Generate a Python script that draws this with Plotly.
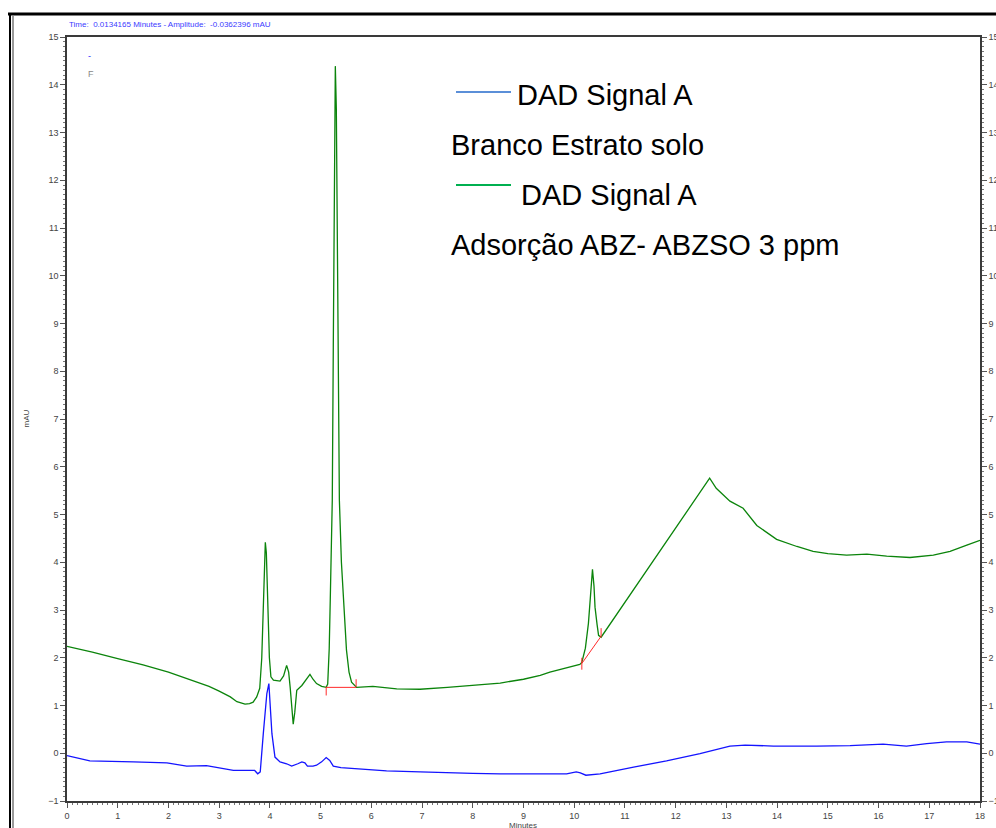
import plotly.graph_objects as go

# Retention time (minutes) and absorbance (mAU) for the two DAD traces
sample_time = [0.0, 0.5, 1.0, 1.5, 2.0, 2.5, 2.8, 3.0, 3.1, 3.22, 3.35, 3.51, 3.6, 3.67, 3.74,
               3.80, 3.84, 3.87, 3.89, 3.91, 3.93, 3.96, 3.99, 4.02, 4.07, 4.20, 4.27, 4.33,
               4.37, 4.40, 4.43, 4.46, 4.49, 4.53, 4.63, 4.72, 4.79, 4.85, 4.92, 5.02, 5.11,
               5.14, 5.17, 5.19, 5.21, 5.23, 5.25, 5.27, 5.29, 5.31, 5.33, 5.35, 5.37, 5.41,
               5.45, 5.51, 5.56, 5.61, 5.71, 6.03, 6.5, 6.96, 7.5, 8.0, 8.54, 9.0, 9.33, 9.52,
               9.8, 10.11, 10.15, 10.22, 10.28, 10.33, 10.36, 10.39, 10.41, 10.45, 10.48, 10.53,
               11.0, 11.5, 12.0, 12.09, 12.4, 12.67, 12.8, 13.07, 13.33, 13.6, 13.99, 14.39,
               14.71, 15.0, 15.37, 15.77, 16.16, 16.62, 17.08, 17.41, 17.74, 18.0]
sample_mau = [2.24, 2.12, 1.98, 1.85, 1.70, 1.52, 1.40, 1.30, 1.24, 1.18, 1.08, 1.03, 1.04, 1.07, 1.18,
              1.36, 2.0, 3.0, 4.0, 4.42, 4.2, 3.3, 2.0, 1.6, 1.53, 1.51, 1.62, 1.84,
              1.7, 1.38, 0.9, 0.61, 0.85, 1.32, 1.42, 1.55, 1.65, 1.55, 1.46, 1.40, 1.38,
              1.45, 2.2, 3.2, 4.2, 5.3, 8.5, 12.5, 14.39, 13.5, 10.5, 7.5, 5.3, 4.0,
              3.2, 2.16, 1.7, 1.49, 1.38, 1.40, 1.35, 1.34, 1.38, 1.42, 1.47, 1.55, 1.63, 1.70,
              1.78, 1.86, 1.90, 2.2, 2.72, 3.5, 3.85, 3.5, 3.06, 2.7, 2.47, 2.43,
              3.16, 3.94, 4.72, 4.86, 5.33, 5.76, 5.55, 5.28, 5.13, 4.77, 4.48, 4.33,
              4.23, 4.18, 4.15, 4.17, 4.13, 4.10, 4.15, 4.23, 4.36, 4.46]

blank_time = [0.0, 0.45, 1.31, 1.97, 2.36, 2.75, 3.28, 3.61, 3.70, 3.76, 3.81, 3.87, 3.94, 3.98,
              4.01, 4.04, 4.10, 4.20, 4.33, 4.43, 4.55, 4.63, 4.69, 4.74, 4.85, 4.92, 5.02,
              5.11, 5.18, 5.25, 5.4, 5.64, 5.91, 6.30, 6.96, 7.22, 8.0, 8.54, 9.2, 9.85,
              10.04, 10.12, 10.23, 10.51, 11.17, 11.82, 12.48, 13.07, 13.37, 13.93, 14.78,
              15.44, 16.09, 16.55, 16.95, 17.34, 17.74, 18.0]
blank_mau = [-0.05, -0.16, -0.18, -0.20, -0.27, -0.26, -0.36, -0.37, -0.36, -0.43, -0.39, 0.41, 1.25, 1.46,
             1.0, 0.41, -0.08, -0.18, -0.22, -0.27, -0.22, -0.18, -0.20, -0.27, -0.27, -0.25, -0.18,
             -0.09, -0.15, -0.27, -0.30, -0.32, -0.34, -0.37, -0.39, -0.40, -0.42, -0.43, -0.43, -0.43,
             -0.39, -0.41, -0.46, -0.43, -0.29, -0.16, -0.01, 0.15, 0.17, 0.15, 0.15,
             0.16, 0.19, 0.15, 0.20, 0.24, 0.24, 0.19]

# Integration baselines with their start/end tick marks
base1_time = [5.11, 5.70]
base1_mau = [1.38, 1.38]
base1_ticks = [(5.11, 1.39, 1.21), (5.70, 1.55, 1.39)]
base2_time = [10.15, 10.53]
base2_mau = [1.88, 2.45]
base2_ticks = [(10.15, 2.0, 1.75), (10.53, 2.62, 2.44)]

header = "Time:  0.0134165 Minutes - Amplitude:  -0.0362396 mAU"
legend_rows = ["DAD Signal A", "Branco Estrato solo", "DAD Signal A", "Adsorção ABZ- ABZSO 3 ppm"]

W, H = 996, 828
L, R, T, B = 67, 16, 37, 27
PW, PH = W - L - R, H - T - B


def px(x):
    return (x - L) / PW


def py(y):
    return (H - B - y) / PH


GREEN = "#0b840b"
BLUE = "#1414ff"
RED = "#ff2a2a"

fig = go.Figure()
fig.add_trace(go.Scatter(x=blank_time, y=blank_mau, mode="lines",
                         line=dict(color=BLUE, width=1.3), hoverinfo="skip"))
fig.add_trace(go.Scatter(x=sample_time, y=sample_mau, mode="lines",
                         line=dict(color=GREEN, width=1.3), hoverinfo="skip"))
for bt, bm, ticks in [(base1_time, base1_mau, base1_ticks), (base2_time, base2_mau, base2_ticks)]:
    fig.add_trace(go.Scatter(x=bt, y=bm, mode="lines", line=dict(color=RED, width=1),
                             hoverinfo="skip"))
    for t, y0, y1 in ticks:
        fig.add_trace(go.Scatter(x=[t, t], y=[y0, y1], mode="lines",
                                 line=dict(color=RED, width=1), hoverinfo="skip"))
# invisible trace anchoring the right-hand amplitude axis
fig.add_trace(go.Scatter(x=[0], y=[0], yaxis="y2", mode="markers",
                         marker=dict(opacity=0), hoverinfo="skip"))

tickfont = dict(family="Liberation Sans, Arial", size=9, color="#444")
axis_common = dict(showgrid=False, zeroline=False, showline=True, linecolor="#3a3a3a",
                   linewidth=1.5, ticks="outside", ticklen=5, tickcolor="#555",
                   tickwidth=1, tickfont=tickfont, automargin=False,
                   minor=dict(dtick=0.1, ticks="outside", ticklen=2, tickcolor="#777"))

fig.update_layout(
    width=W, height=H, autosize=False,
    margin=dict(l=L, r=R, t=T, b=B, pad=0),
    paper_bgcolor="white", plot_bgcolor="white",
    showlegend=False,
    xaxis=dict(range=[0, 18], dtick=1, mirror=True, **axis_common),
    yaxis=dict(range=[-1, 15], dtick=1, mirror=True, **axis_common),
    yaxis2=dict(range=[-1, 15], dtick=1, overlaying="y", side="right", **axis_common),
)

ann = []
ann.append(dict(text=header, x=0, y=py(24), xref="paper", yref="paper", xanchor="left",
                yanchor="middle", showarrow=False,
                font=dict(family="Liberation Sans, Arial", size=8, color="#3b3bff")))
ann.append(dict(text="mAU", x=px(19), y=py(419), xref="paper", yref="paper", textangle=-90,
                showarrow=False, font=dict(family="Liberation Sans, Arial", size=8, color="#444")))
ann.append(dict(text="Minutes", x=px(523), y=py(819), xref="paper", yref="paper",
                yanchor="top", showarrow=False,
                font=dict(family="Liberation Sans, Arial", size=8, color="#444")))
ann.append(dict(text="-", x=px(86), y=py(49), xref="paper", yref="paper", showarrow=False,
                font=dict(family="Liberation Sans, Arial", size=9, color="#2a2aff")))
ann.append(dict(text="F", x=px(86), y=py(67), xref="paper", yref="paper", showarrow=False,
                font=dict(family="Liberation Sans, Arial", size=9, color="#888")))

legend_pos = [(515, 95), (449, 145), (519, 195), (449, 245)]
for txt, (lx, ly) in zip(legend_rows, legend_pos):
    ann.append(dict(text=txt, x=px(lx), y=py(ly), xref="paper", yref="paper",
                    xanchor="left", yanchor="middle", showarrow=False,
                    font=dict(family="Liberation Sans, Arial", size=29, color="black")))
fig.update_layout(annotations=ann)

shapes = [
    dict(type="line", xref="paper", yref="paper", x0=px(456), x1=px(511), y0=py(92), y1=py(92),
         line=dict(color="#5b8fd8", width=2)),
    dict(type="line", xref="paper", yref="paper", x0=px(456), x1=px(511), y0=py(185), y1=py(185),
         line=dict(color="#00b050", width=2)),
    # surrounding window border
    dict(type="line", xref="paper", yref="paper", x0=px(8), x1=px(996), y0=py(14), y1=py(14),
         line=dict(color="black", width=3)),
    dict(type="line", xref="paper", yref="paper", x0=px(10), x1=px(10), y0=py(13), y1=py(828),
         line=dict(color="black", width=2)),
    dict(type="line", xref="paper", yref="paper", x0=px(13), x1=px(13), y0=py(16), y1=py(828),
         line=dict(color="#9a9a9a", width=2)),
]
fig.update_layout(shapes=shapes)

fig.write_html("out.html")
